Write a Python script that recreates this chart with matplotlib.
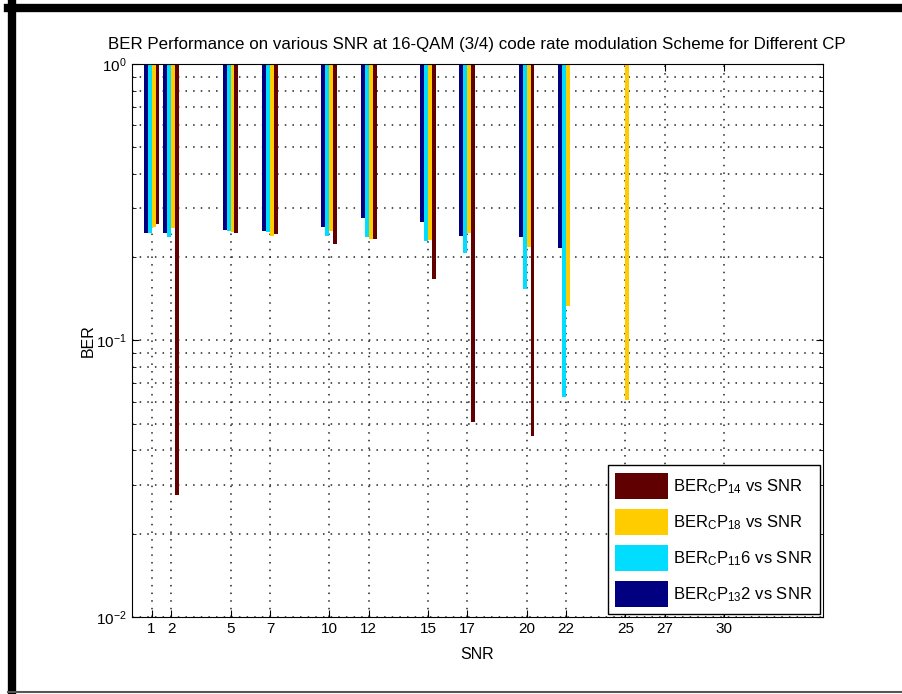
import matplotlib.pyplot as plt
import numpy as np
from matplotlib.lines import Line2D
from matplotlib.ticker import LogLocator, NullFormatter

nan = np.nan
snr = [1, 2, 5, 7, 10, 12, 15, 17, 20, 22, 25, 27, 30]

# BER per CP (nan = no bar)
ber_cp32 = [0.245, 0.244, 0.251, 0.249, 0.258, 0.277, 0.267, 0.239, 0.236, 0.216, nan, nan, nan]
ber_cp16 = [0.245, 0.236, 0.248, 0.2465, 0.239, 0.237, 0.228, 0.207, 0.1535, 0.0626, nan, nan, nan]
ber_cp8 = [0.258, 0.255, 0.246, 0.239, 0.248, 0.232, 0.231, 0.244, 0.218, 0.133, 0.061, nan, nan]
ber_cp4 = [0.264, 0.0276, 0.245, 0.242, 0.223, 0.233, 0.167, 0.0506, 0.0453, nan, nan, nan, nan]

series = [ber_cp32, ber_cp16, ber_cp8, ber_cp4]
colors = ['#000080', '#00DDFF', '#FFCC00', '#600000']
labels = [r'BER$_C$P$_{13}$2 vs SNR', r'BER$_C$P$_{11}$6 vs SNR',
          r'BER$_C$P$_{18}$ vs SNR', r'BER$_C$P$_{14}$ vs SNR']

plt.rcParams['font.family'] = ['Liberation Sans', 'DejaVu Sans']
plt.rcParams['mathtext.fontset'] = 'custom'
plt.rcParams['mathtext.rm'] = 'Liberation Sans'
plt.rcParams['mathtext.it'] = 'Liberation Sans'

fig = plt.figure(figsize=(9.03, 6.94), dpi=100)
ax = fig.add_axes([0.146, 0.111, 0.765, 0.797])

x = np.array(snr, dtype=float)
w = 0.2
offsets = [-1.5 * w, -0.5 * w, 0.5 * w, 1.5 * w]
handles = []
for vals, col, lab, off in zip(series, colors, labels, offsets):
    v = np.array(vals)
    m = ~np.isnan(v)
    b = ax.bar(x[m] + off, v[m] - 1, bottom=1, width=w, color=col,
               edgecolor='none', label=lab)
    handles.append(b)

ax.set_yscale('log')
ax.set_ylim(1e-2, 1)
ax.set_xlim(0, 35)
ax.set_xticks(snr)
ax.yaxis.set_minor_locator(LogLocator(base=10, subs=np.arange(2, 10)))
ax.yaxis.set_minor_formatter(NullFormatter())
ax.tick_params(which='both', direction='in', top=True, right=True, labelsize=11)
ax.tick_params(which='major', length=5)
ax.tick_params(which='minor', length=3)
dots = (0, (1, 4))
ax.grid(True, which='major', axis='both', linestyle=dots, color='#222222', linewidth=1.1)
ax.grid(True, which='minor', axis='y', linestyle=dots, color='#222222', linewidth=1.1)
ax.set_axisbelow(True)

ax.set_title('BER Performance on various SNR at 16-QAM (3/4) code rate modulation Scheme for Different CP',
             fontsize=12.2, pad=11)
ax.set_xlabel('SNR', fontsize=11.5, labelpad=8)
ax.set_ylabel('BER', fontsize=11.5, labelpad=0)

leg = ax.legend(handles[::-1], labels[::-1], loc='lower right', fontsize=12,
                handlelength=3.2, handleheight=2.0, handletextpad=0.3,
                labelspacing=0.62, borderpad=0.45, borderaxespad=0.15,
                fancybox=False, edgecolor='black', framealpha=1)
leg.get_frame().set_linewidth(1.0)

# outer frame of the screenshot
fig.add_artist(Line2D([0.0133, 0.0133], [0.0, 0.994], color='black', lw=6))
fig.add_artist(Line2D([0.009, 1.0], [0.988, 0.988], color='black', lw=6))
fig.add_artist(Line2D([0.009, 1.0], [0.003, 0.003], color='#555555', lw=1.5))

fig.savefig('out.png', dpi=100)
